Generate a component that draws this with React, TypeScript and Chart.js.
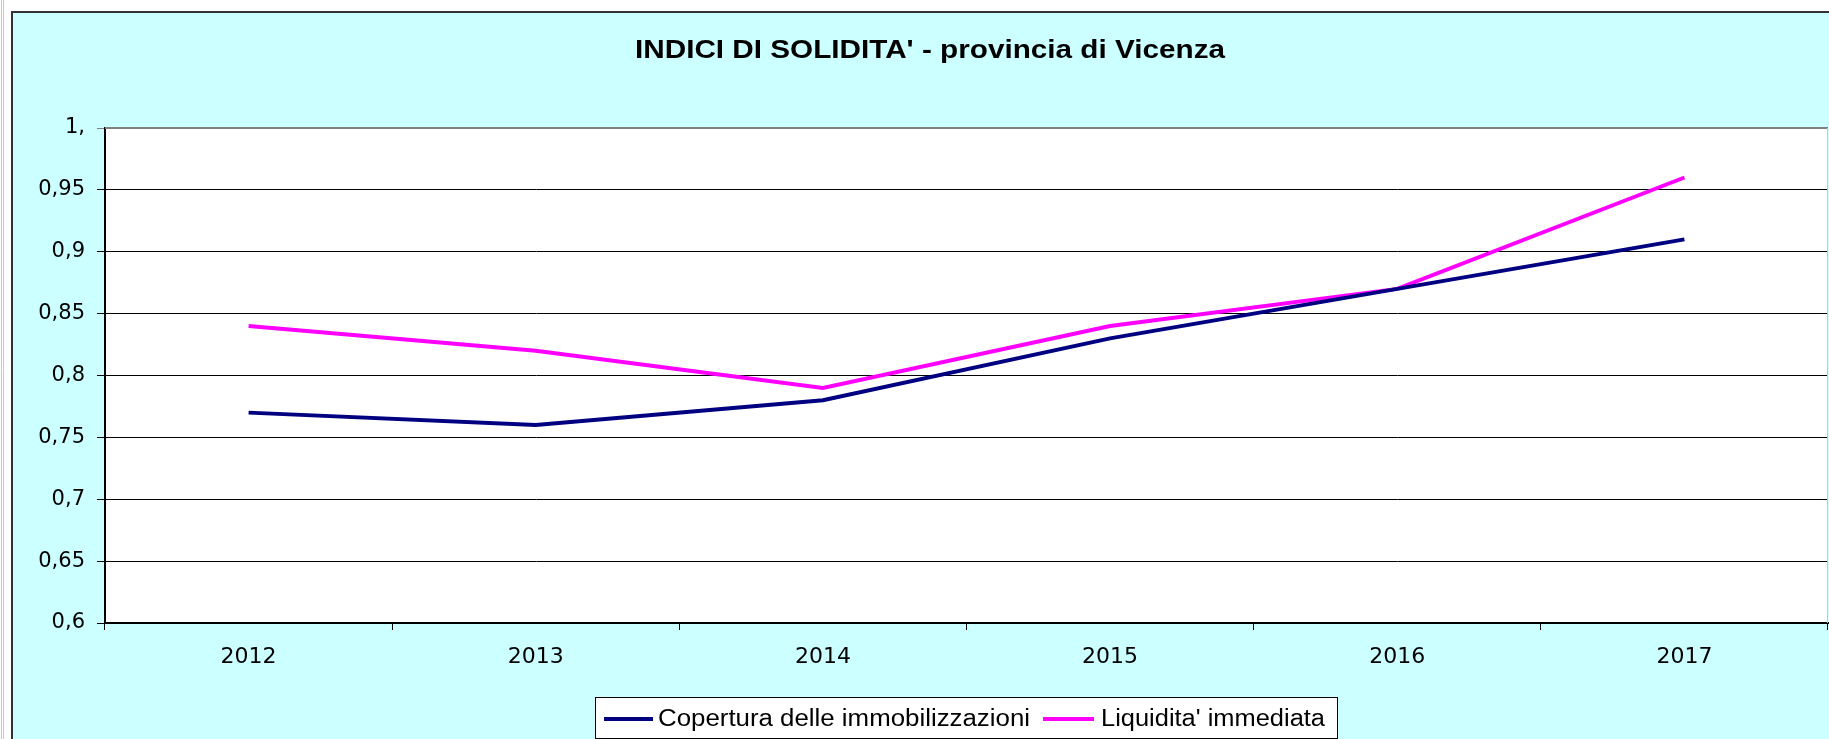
import React, { useEffect, useRef } from "react";
import { Chart, registerables } from "chart.js";

Chart.register(...registerables);

const years = ["2012", "2013", "2014", "2015", "2016", "2017"];
const copertura = [0.77, 0.76, 0.78, 0.83, 0.87, 0.91];
const liquidita = [0.84, 0.82, 0.79, 0.84, 0.87, 0.96];
const seriesNames = ["Copertura delle immobilizzazioni", "Liquidita' immediata"];
const seriesColors = ["#000080", "#FF00FF"];
const yTickValues = [0.6, 0.65, 0.7, 0.75, 0.8, 0.85, 0.9, 0.95, 1.0];
const yTickLabels = ["0,6", "0,65", "0,7", "0,75", "0,8", "0,85", "0,9", "0,95", "1,"];
const titleText = "INDICI DI SOLIDITA' - provincia di Vicenza";

const W = 1829;
const H = 739;

function fitText(ctx: any, text: string, x: number, y: number, width: number) {
  const m = ctx.measureText(text).width;
  const s = width / m;
  ctx.save();
  ctx.translate(x, y);
  ctx.scale(s, 1);
  ctx.fillText(text, 0, 0);
  ctx.restore();
}

const decorPlugin = {
  id: "decor",
  beforeDraw(chart: any) {
    const ctx = chart.ctx;
    const ca = chart.chartArea;
    ctx.save();
    ctx.fillStyle = "#ffffff";
    ctx.fillRect(0, 0, W, H);
    ctx.strokeStyle = "#c8c8c8";
    ctx.lineWidth = 1;
    ctx.beginPath();
    ctx.moveTo(1.5, 0);
    ctx.lineTo(1.5, H);
    ctx.moveTo(3.5, 0);
    ctx.lineTo(3.5, H);
    ctx.stroke();
    ctx.fillStyle = "#CCFFFF";
    ctx.fillRect(11, 11, W - 11, H - 11);
    ctx.strokeStyle = "#333333";
    ctx.lineWidth = 2;
    ctx.beginPath();
    ctx.moveTo(12, H);
    ctx.lineTo(12, 12);
    ctx.lineTo(W, 12);
    ctx.stroke();
    ctx.fillStyle = "#ffffff";
    ctx.fillRect(ca.left, ca.top, ca.right - ca.left, ca.bottom - ca.top);
    ctx.restore();
  },
  afterDraw(chart: any) {
    const ctx = chart.ctx;
    const ca = chart.chartArea;
    ctx.save();
    ctx.strokeStyle = "#808080";
    ctx.lineWidth = 2;
    ctx.beginPath();
    ctx.moveTo(ca.left, ca.top);
    ctx.lineTo(ca.right, ca.top);
    ctx.stroke();
    ctx.strokeStyle = "#c8c8c8";
    ctx.lineWidth = 1;
    ctx.beginPath();
    ctx.moveTo(ca.right - 0.5, ca.top);
    ctx.lineTo(ca.right - 0.5, ca.bottom);
    ctx.stroke();

    // title
    ctx.fillStyle = "#000000";
    ctx.font = "bold 25px 'Liberation Sans', Arial, sans-serif";
    ctx.textAlign = "left";
    ctx.textBaseline = "alphabetic";
    fitText(ctx, titleText, 635, 58, 590);

    // legend
    const lx = 595, ly = 697, lw = 742, lh = 41;
    ctx.fillStyle = "#ffffff";
    ctx.fillRect(lx, ly, lw, lh);
    ctx.strokeStyle = "#000000";
    ctx.lineWidth = 1;
    ctx.strokeRect(lx + 0.5, ly + 0.5, lw, lh);
    ctx.font = "23px 'Liberation Sans', Arial, sans-serif";
    ctx.textAlign = "left";
    ctx.textBaseline = "alphabetic";
    const cy = 719;
    const items = [
      { x0: 604, x1: 653, tx: 658, tw: 372 },
      { x0: 1043, x1: 1094, tx: 1101, tw: 224 },
    ];
    chart.data.datasets.forEach((ds: any, i: number) => {
      const it = items[i];
      ctx.strokeStyle = ds.borderColor;
      ctx.lineWidth = 4;
      ctx.beginPath();
      ctx.moveTo(it.x0, cy);
      ctx.lineTo(it.x1, cy);
      ctx.stroke();
      ctx.fillStyle = "#000000";
      fitText(ctx, ds.label, it.tx, 726, it.tw);
    });
    ctx.restore();
  },
};

export default function App() {
  const ref = useRef<HTMLCanvasElement>(null);
  useEffect(() => {
    if (!ref.current) return;
    const chart = new Chart(ref.current, {
      type: "line",
      data: {
        labels: years,
        datasets: [
          {
            label: seriesNames[0],
            data: copertura,
            borderColor: seriesColors[0],
            backgroundColor: seriesColors[0],
            borderWidth: 4,
            pointRadius: 0,
            tension: 0,
          },
          {
            label: seriesNames[1],
            data: liquidita,
            borderColor: seriesColors[1],
            backgroundColor: seriesColors[1],
            borderWidth: 4,
            pointRadius: 0,
            tension: 0,
          },
        ],
      },
      options: {
        responsive: false,
        animation: false,
        devicePixelRatio: 1,
        layout: { padding: { left: 0, top: 128, right: 1, bottom: 0 } },
        plugins: {
          legend: { display: false },
          title: { display: false },
          tooltip: { enabled: false },
        },
        scales: {
          x: {
            offset: true,
            grid: {
              offset: true,
              drawOnChartArea: false,
              drawTicks: true,
              tickLength: 7,
              color: "#000000",
              lineWidth: 1,
            },
            border: { color: "#000000", width: 2 },
            ticks: {
              color: "#000000",
              font: { family: "'DejaVu Sans', sans-serif", size: 22 },
              padding: 14,
              maxRotation: 0,
            },
            afterFit(scale: any) {
              scale.height = 116;
            },
          },
          y: {
            min: 0.6,
            max: 1.0,
            afterBuildTicks(scale: any) {
              scale.ticks = yTickValues.map((v) => ({ value: v }));
            },
            grid: {
              color: (c: any) => (c.tick && c.tick.value >= 0.999 ? "#808080" : "#000000"),
              lineWidth: 1,
              tickLength: 8,
            },
            border: { color: "#000000", width: 2 },
            ticks: {
              color: "#000000",
              font: { family: "'DejaVu Sans', sans-serif", size: 21 },
              padding: 12,
              callback: (_v: any, i: number) => yTickLabels[i],
            },
            afterFit(scale: any) {
              scale.width = 105;
            },
          },
        },
      },
      plugins: [decorPlugin],
    });
    return () => chart.destroy();
  }, []);
  return (
    <div style={{ position: "fixed", left: 0, top: 0, width: W, height: H }}>
      <canvas ref={ref} width={W} height={H} style={{ width: W, height: H, display: "block" }} />
    </div>
  );
}
